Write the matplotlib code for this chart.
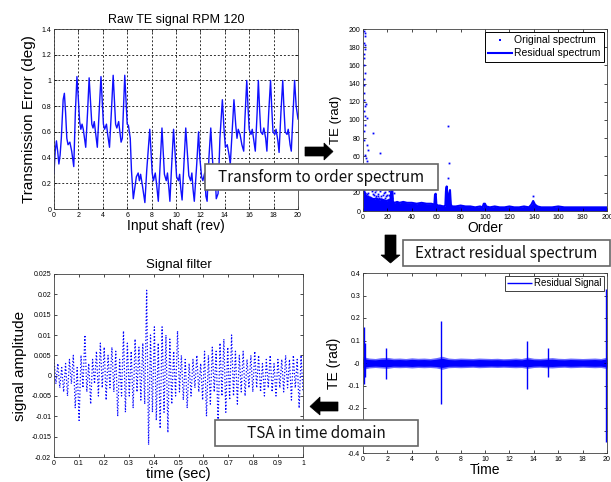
import matplotlib
matplotlib.use('Agg')
import matplotlib.pyplot as plt
from matplotlib.patches import Rectangle, Polygon
from matplotlib.ticker import FuncFormatter
import numpy as np

plt.rcParams['font.family'] = ['Liberation Sans', 'DejaVu Sans']

W, H = 611, 482

# --- raw TE signal (rev, deg)
te_rev = [0.0, 0.1, 0.2, 0.3, 0.4, 0.5, 0.6, 0.75, 0.85, 0.95, 1.05, 1.15, 1.3, 1.45, 1.55, 1.62, 1.75, 1.88,
          2.0, 2.1, 2.2, 2.3, 2.4, 2.5, 2.6, 2.75, 2.88, 3.0, 3.1, 3.2, 3.3, 3.4, 3.55, 3.7, 3.85, 3.95,
          4.05, 4.15, 4.3, 4.4, 4.55, 4.7, 4.85, 4.95, 5.05, 5.15, 5.3, 5.4, 5.5, 5.6, 5.7, 5.8, 5.9,
          6.0, 6.1, 6.25, 6.35, 6.5, 6.6, 6.75, 6.9, 7.0, 7.1, 7.25, 7.45, 7.6, 7.85, 7.95, 8.05, 8.15,
          8.3, 8.4, 8.55, 8.7, 8.85, 8.95, 9.05, 9.2, 9.3, 9.4, 9.5, 9.65, 9.8, 9.95, 10.05, 10.2, 10.3,
          10.4, 10.5, 10.65, 10.8, 10.95, 11.05, 11.2, 11.3, 11.4, 11.5, 11.7, 11.85, 11.95, 12.1, 12.2,
          12.35, 12.45, 12.55, 12.7, 12.85, 12.95, 13.05, 13.2, 13.3, 13.45, 13.6, 13.8, 13.95, 14.05,
          14.2, 14.35, 14.45, 14.6, 14.75, 14.9, 15.0, 15.1, 15.25, 15.4, 15.55, 15.65, 15.8, 15.9, 16.0,
          16.15, 16.25, 16.35, 16.5, 16.65, 16.75, 16.85, 16.95, 17.1, 17.2, 17.35, 17.45, 17.6, 17.75,
          17.85, 17.95, 18.1, 18.2, 18.35, 18.45, 18.6, 18.75, 18.85, 18.95, 19.1, 19.2, 19.35, 19.45,
          19.6, 19.72, 19.85, 20.0]
te_deg = [0.28, 0.45, 0.53, 0.45, 0.35, 0.42, 0.55, 0.85, 0.9, 0.75, 0.55, 0.5, 0.52, 0.45, 0.38, 0.33, 0.75, 1.03,
          0.85, 0.68, 0.62, 0.66, 0.62, 0.55, 0.48, 0.75, 1.02, 0.82, 0.66, 0.63, 0.68, 0.6, 0.48, 0.75, 1.03, 0.85,
          0.66, 0.62, 0.66, 0.58, 0.48, 0.75, 1.04, 0.85, 0.66, 0.63, 0.68, 0.6, 0.52, 0.55, 0.8, 1.04, 0.85,
          0.66, 0.65, 0.55, 0.3, 0.08, 0.15, 0.25, 0.28, 0.22, 0.27, 0.18, 0.05, 0.3, 0.62, 0.45, 0.28, 0.22,
          0.28, 0.2, 0.06, 0.35, 0.63, 0.45, 0.27, 0.22, 0.28, 0.18, 0.06, 0.35, 0.62, 0.4, 0.25, 0.22, 0.27,
          0.15, 0.07, 0.35, 0.63, 0.4, 0.26, 0.22, 0.28, 0.15, 0.06, 0.35, 0.6, 0.4, 0.25, 0.22,
          0.28, 0.1, 0.06, 0.4, 0.63, 0.45, 0.3, 0.28, 0.08, 0.12, 0.55, 0.85, 0.6, 0.48,
          0.5, 0.42, 0.35, 0.6, 0.85, 0.65, 0.55, 0.62, 0.58, 0.5, 0.45, 0.7, 1.0, 0.8, 0.62,
          0.58, 0.62, 0.55, 0.45, 0.75, 1.0, 0.78, 0.6, 0.58, 0.63, 0.55, 0.45, 0.75, 1.0,
          0.78, 0.6, 0.58, 0.62, 0.53, 0.44, 0.75, 1.0, 0.78, 0.6, 0.58, 0.62, 0.5, 0.45,
          0.75, 1.0, 0.8, 0.7]

# --- order spectrum
orig_order = [1, 2, 3, 1.5, 2.5, 4, 5, 3.5, 6, 7, 4.5, 8, 9, 5.5, 10, 11, 12, 6.5, 13, 14, 15, 16, 7.5, 17, 18,
              19, 20, 21, 22, 23, 24, 2, 3, 4, 6, 8, 10, 12, 14, 16, 18, 20, 22, 3, 5, 2, 4, 3, 2.5, 1, 2, 3,
              1, 1.2, 0.8, 1, 1.5, 0.8, 1, 1.3, 1, 1.5, 1, 8, 14, 70, 70.5, 69.5, 139.5, 5, 6, 9, 11, 7, 13,
              17, 19, 21, 25, 24, 1.5, 2, 2.5, 3, 4, 1, 2, 3.5, 4.5, 6, 8.5, 10.5, 12.5, 15.5, 18.5, 21.5,
              1, 1.5, 2, 2.5, 0.5, 1, 2, 1.5]
orig_val = [45, 38, 42, 33, 28, 35, 30, 25, 27, 22, 20, 24, 18, 15, 21, 16, 19, 12, 14, 22, 17, 12, 30, 20, 14,
            11, 18, 13, 16, 10, 14, 20, 17, 12, 9, 11, 8, 13, 9, 18, 21, 9, 11, 55, 48, 62, 67, 72, 58, 78, 95, 102,
            110, 122, 130, 145, 152, 160, 168, 178, 185, 192, 198, 86, 64, 93, 53, 36, 17, 40, 35, 28, 26, 45, 30,
            25, 27, 22, 20, 27, 50, 47, 43, 38, 31, 28, 24, 19, 16, 33, 19, 23, 16, 24, 17, 18,
            88, 104, 115, 118, 138, 173, 182, 196]
res_order = [0, 1, 2, 3, 5, 7, 9, 11, 13, 15, 17, 19, 21, 22.5, 23, 23.5, 24, 24.5, 26, 28, 30, 33, 36, 40, 44,
             48, 52, 56, 58.5, 59, 59.6, 60.2, 61, 63, 66, 67.5, 68, 68.6, 69.2, 70, 70.7, 71.3, 72, 73, 76,
             80, 84, 88, 92, 96, 98, 99, 100, 101, 104, 108, 112, 116, 120, 124, 128, 132, 136, 138, 139.5,
             141, 143, 146, 150, 155, 160, 165, 170, 175, 180, 185, 190, 195, 200]
res_val = [30, 22, 18, 16, 15, 14, 13, 14, 12, 13, 12, 11, 12, 11, 20, 26, 24, 10, 9, 10, 9, 10, 9, 9, 8,
           9, 8, 8, 7, 18, 19, 6, 6, 6, 5, 6, 22, 27, 12, 8, 20, 23, 7, 5, 5,
           6, 5, 5, 4, 5, 4, 8, 8, 5, 4, 5, 4, 4, 5, 4, 4, 5, 4, 7, 11,
           7, 5, 4, 4, 4, 5, 4, 4, 4, 4, 4, 4, 4, 4]

# --- TSA filtered signal (sec, amplitude x1e-3)
filt_val = [4, -2, 3, -3, 2, -4, 3, -5, 4, -2, 5, -8, 2,
            -11, 5, -3, 10, -4, 3, -7, 4, -2, 6, -5, 8, -3,
            7, -6, 5, -3, 7, -4, 6, -10, 4, -5, 11, -9, 8,
            -5, 6, -8, 9, -4, 7, -6, 8, -7, 21, -17, 10, -9,
            12, -11, 8, -13, 12, -9, 10, -14, 9, -7, 6, -5, 11,
            -4, 5, -6, 4, -8, 3, -5, 4, -3, 5, -4, 3, -6,
            6, -10, 5, -7, 7, -4, 6, -12, 8, -5, 9, -9, 7,
            -6, 10, -5, 6, -7, 5, -4, 6, -5, 4, -3, 5, -4,
            6, -3, 5, -4, 3, -5, 4, -3, 5, -4, 3, -5, 4,
            -3, 4, -4, 5, -3, 4, -6, 5, -3, 4, -8, 5, -4]

# --- residual signal: noise band envelope and spikes
band_t = [0, 0.5, 1, 1.5, 2, 2.5, 3, 3.5, 4, 4.5, 5, 5.5, 6, 6.5, 7, 7.5, 8, 8.5, 9, 9.5, 10, 10.5, 11, 11.5,
          12, 12.5, 13, 13.5, 14, 14.5, 15, 15.5, 16, 16.5, 17, 17.5, 18, 18.5, 19, 19.5, 20]
band_hi = [0.028, 0.022, 0.02, 0.024, 0.025, 0.021, 0.022, 0.02, 0.023, 0.021, 0.022, 0.02, 0.024, 0.03, 0.022,
           0.02, 0.022, 0.021, 0.02, 0.022, 0.021, 0.02, 0.021, 0.019, 0.02, 0.022, 0.02, 0.026, 0.021, 0.02,
           0.022, 0.024, 0.021, 0.02, 0.022, 0.021, 0.02, 0.021, 0.022, 0.02, 0.026]
band_lo = [-0.028, -0.022, -0.02, -0.022, -0.024, -0.02, -0.021, -0.02, -0.022, -0.02, -0.021, -0.02, -0.022,
           -0.028, -0.021, -0.02, -0.021, -0.02, -0.019, -0.021, -0.02, -0.019, -0.02, -0.019, -0.02, -0.021,
           -0.02, -0.024, -0.02, -0.019, -0.021, -0.022, -0.02, -0.019, -0.021, -0.02, -0.019, -0.02, -0.021,
           -0.02, -0.025]
spike_t = [0.05, 0.15, 1.9, 6.4, 13.45, 15.2, 19.95]
spike_hi = [0.16, 0.09, 0.068, 0.187, 0.096, 0.068, 0.33]
spike_lo = [-0.092, -0.06, -0.07, -0.184, -0.114, -0.062, -0.35]


def fx(px):
    return px / W


def fy(py):
    return 1 - py / H


def make_ax(l, t, r, b):
    ax = fig.add_axes([fx(l), fy(b), (r - l) / W, (b - t) / H])
    ax.tick_params(direction='in', length=2.5, width=0.5, labelsize=5, pad=2,
                   top=True, right=True)
    for s in ax.spines.values():
        s.set_linewidth(0.6)
        s.set_color('#404040')
    ax.xaxis.set_major_formatter(FuncFormatter(lambda v, p: '%g' % round(v, 4)))
    ax.yaxis.set_major_formatter(FuncFormatter(lambda v, p: '%g' % round(v, 4)))
    return ax


fig = plt.figure(figsize=(W / 100, H / 100), dpi=100)

# top left: raw TE
ax1 = make_ax(54, 29, 298, 209)
ax1.plot(te_rev, te_deg, color='#1010ff', lw=1)
ax1.set_xlim(0, 20)
ax1.set_ylim(0, 1.4)
ax1.set_xticks(np.arange(0, 21, 2))
ax1.set_yticks(np.arange(0, 1.41, 0.2))
ax1.grid(True, color='#303030', linestyle=(0, (2, 2)), lw=0.7)
ax1.set_title('Raw TE signal RPM 120', fontsize=9, pad=4)
ax1.set_xlabel('Input shaft (rev)', fontsize=10, labelpad=0)
ax1.set_ylabel('Transmission Error (deg)', fontsize=11, labelpad=4)

# top right: order spectrum
ax2 = make_ax(363, 29, 607, 211)
ax2.plot(orig_order, orig_val, 's', color='#0000ff', ms=1.3, mew=0, label='Original spectrum')
ax2.fill_between(res_order, 0, res_val, color='#0000ff', lw=0)
ax2.plot(res_order, res_val, color='#0000ff', lw=1.5, label='Residual spectrum')
ax2.set_xlim(0, 200)
ax2.set_ylim(0, 200)
ax2.set_xticks(np.arange(0, 201, 20))
ax2.set_yticks(np.arange(0, 201, 20))
ax2.set_xlabel('Order', fontsize=10, labelpad=0)
ax2.set_ylabel('TE (rad)', fontsize=9.5, labelpad=5)
leg = ax2.legend(loc='upper right', fontsize=7.5, fancybox=False, framealpha=1,
                 edgecolor='black', borderpad=0.3, handlelength=2.3, handletextpad=0.2,
                 labelspacing=0.3, borderaxespad=0.3, markerscale=1.5)
leg.get_frame().set_linewidth(0.7)

# bottom left: signal filter
ax3 = make_ax(54, 274, 303, 457)
t_filt = np.linspace(0, 1, len(filt_val))
ax3.plot(t_filt, np.array(filt_val) * 1e-3, color='#0000ff', lw=0.9, linestyle=':')
ax3.set_xlim(0, 1)
ax3.set_ylim(-0.02, 0.025)
ax3.set_xticks(np.arange(0, 1.01, 0.1))
ax3.set_yticks(np.arange(-0.02, 0.0251, 0.005))
ax3.set_title('Signal filter', fontsize=9.5, pad=4)
ax3.set_xlabel('time (sec)', fontsize=10.5, labelpad=0)
ax3.set_ylabel('signal amplitude', fontsize=11, labelpad=3)

# bottom right: residual signal
ax4 = make_ax(363, 273, 607, 453)
ax4.fill_between(band_t, band_lo, band_hi, color='#6a6aff', lw=0)
ax4.fill_between(band_t, np.array(band_lo) * 0.7, np.array(band_hi) * 0.7, color='#0000ff', lw=0)
ax4.vlines(spike_t, spike_lo, spike_hi, color='#0000ff', lw=1, label='Residual Signal')
ax4.set_xlim(0, 20)
ax4.set_ylim(-0.4, 0.4)
ax4.set_xticks(np.arange(0, 21, 2))
ax4.set_yticks(np.arange(-0.4, 0.41, 0.1))
ax4.set_xlabel('Time', fontsize=10, labelpad=0)
ax4.set_ylabel('TE (rad)', fontsize=10, labelpad=5)
leg = ax4.legend(loc='upper right', fontsize=7, fancybox=False, framealpha=1,
                 edgecolor='#404040', borderpad=0.25, handlelength=2.6, handletextpad=0.2,
                 borderaxespad=0.3)
leg.get_frame().set_linewidth(0.7)

# step boxes
boxes = [('Transform to order spectrum', 205, 164, 438, 190),
         ('Extract residual spectrum', 403, 240, 610, 266),
         ('TSA in time domain', 215, 420, 418, 446)]
for label, l, t, r, b in boxes:
    fig.add_artist(Rectangle((fx(l), fy(b)), (r - l) / W, (b - t) / H, transform=fig.transFigure,
                             facecolor='white', edgecolor='#666666', lw=1.2, zorder=10))
    fig.text(fx((l + r) / 2), fy((t + b) / 2), label, fontsize=11, ha='center', va='center',
             family=['Noto Sans CJK KR', 'DejaVu Sans'], color='#111111', zorder=11)


def block_arrow(pts):
    fig.add_artist(Polygon([(fx(x), fy(y)) for x, y in pts], closed=True, transform=fig.transFigure,
                           facecolor='black', edgecolor='black', lw=0.5, zorder=12))


# right arrow, down arrow, left arrow (pixel outlines)
block_arrow([(305, 147), (324, 147), (324, 143), (333, 151.5), (324, 160), (324, 156), (305, 156)])
block_arrow([(385, 235), (396, 235), (396, 255), (400, 255), (390.5, 263), (381, 255), (385, 255)])
block_arrow([(338, 402), (320, 402), (320, 397), (310, 406.5), (320, 415), (320, 411), (338, 411)])

fig.savefig('out.png', dpi=100)
